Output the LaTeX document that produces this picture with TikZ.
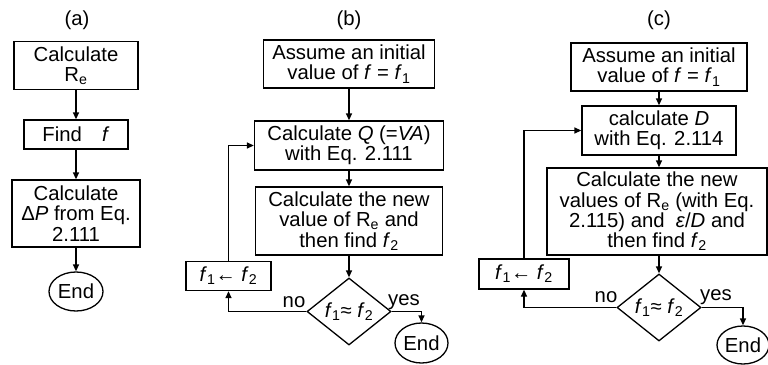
\documentclass[tikz,border=0pt]{standalone}
\usepackage{fontspec}
\setmainfont{Liberation Sans}
\usetikzlibrary{shapes.geometric,arrows.meta}
\tikzset{
  base/.style={draw, line width=1.3pt, inner sep=0pt, align=center, font=\fontsize{20.3}{20.3}\selectfont},
  boxn/.style={base, rectangle},
  endn/.style={base, ellipse, minimum width=53pt, minimum height=40pt},
  decn/.style={base, diamond, minimum width=84pt, minimum height=67pt, aspect=1.25},
  lbl/.style={inner sep=0pt, font=\fontsize{20.3}{20.3}\selectfont},
  arr/.style={line width=1.3pt, -{Triangle[length=7pt,width=6pt]}},
}
\newcommand{\fsub}[1]{\textit{f}\textsubscript{#1}}
\begin{document}
\begin{tikzpicture}[x=1pt,y=-1pt]
\useasboundingbox (0,0) rectangle (768,364);
% (a)
\node[lbl] (ta) at (77,20) {(a)};
\node[boxn, minimum width=124pt, minimum height=48pt] (a1) at (76,65.5) {Calculate\\R\textsubscript{e}};
\node[boxn, minimum width=104pt, minimum height=29pt] (a2) at (76,134.5) {Find\quad\textit{f}};
\node[boxn, minimum width=128pt, minimum height=67pt] (a3) at (76,213.5) {Calculate\\Δ\textit{P} from Eq.\\2.111};
\node[endn, minimum width=54pt, minimum height=39pt] (a4) at (76,291.5) {End};
\draw[arr] (a1) -- (a2);
\draw[arr] (a2) -- (a3);
\draw[arr] (a3) -- (a4);
% (b)
\node[lbl] (tb) at (349,20) {(b)};
\node[boxn, minimum width=171pt, minimum height=48pt] (b1) at (349,64) {Assume an initial\\value of \textit{f} = \fsub{1}};
\node[boxn, minimum width=189pt, minimum height=49pt] (b2) at (349,145.5) {Calculate \textit{Q} (=\textit{VA})\\with Eq. 2.111};
\node[boxn, minimum width=187pt, minimum height=68pt] (b3) at (349,221) {Calculate the new\\value of R\textsubscript{e} and\\then find \fsub{2}};
\node[decn] (bd) at (349,311.5) {\fsub{1}≈ \fsub{2}};
\node[boxn, minimum width=85pt, minimum height=29pt] (bl) at (228.5,276) {\fsub{1}← \fsub{2}};
\node[endn] (be) at (421.5,343) {End};
\node[lbl] (bno) at (294,302) {no};
\node[lbl] (byes) at (404,302) {yes};
\draw[arr] (b1) -- (b2);
\draw[arr] (b2) -- (b3);
\draw[arr] (b3.south) -- (bd.north);
\draw[arr] (bd.east) -| (be.north);
\draw[arr] (bd.west) -| (bl.south);
\draw[arr] (bl.north) |- (b2.west);
% (c)
\node[lbl] (tc) at (659,20) {(c)};
\node[boxn, minimum width=176pt, minimum height=48pt] (c1) at (659,67) {Assume an initial\\value of \textit{f} = \fsub{1}};
\node[boxn, minimum width=154pt, minimum height=49pt] (c2) at (659,130.5) {calculate \textit{D}\\with Eq. 2.114};
\node[boxn, minimum width=220pt, minimum height=87pt] (c3) at (657,211.5) {Calculate the new\\values of R\textsubscript{e} (with Eq.\\2.115) and\ \ \textit{ε}/\textit{D} and\\then find \fsub{2}};
\node[decn] (cd) at (659,307.5) {\fsub{1}≈ \fsub{2}};
\node[boxn, minimum width=90pt, minimum height=30pt] (cl) at (524,274) {\fsub{1}← \fsub{2}};
\node[endn, minimum width=52pt, minimum height=38pt] (ce) at (743,345) {End};
\node[lbl] (cno) at (606,297) {no};
\node[lbl] (cyes) at (716,297) {yes};
\draw[arr] (c1) -- (c2);
\draw[arr] (c2.south) -- (c2.south |- c3.north);
\draw[arr] (c3.south -| cd.north) -- (cd.north);
\draw[arr] (cd.east) -| (ce.north);
\draw[arr] (cd.west) -| (cl.south);
\draw[arr] (cl.north) |- (c2.west);
\end{tikzpicture}
\end{document}
